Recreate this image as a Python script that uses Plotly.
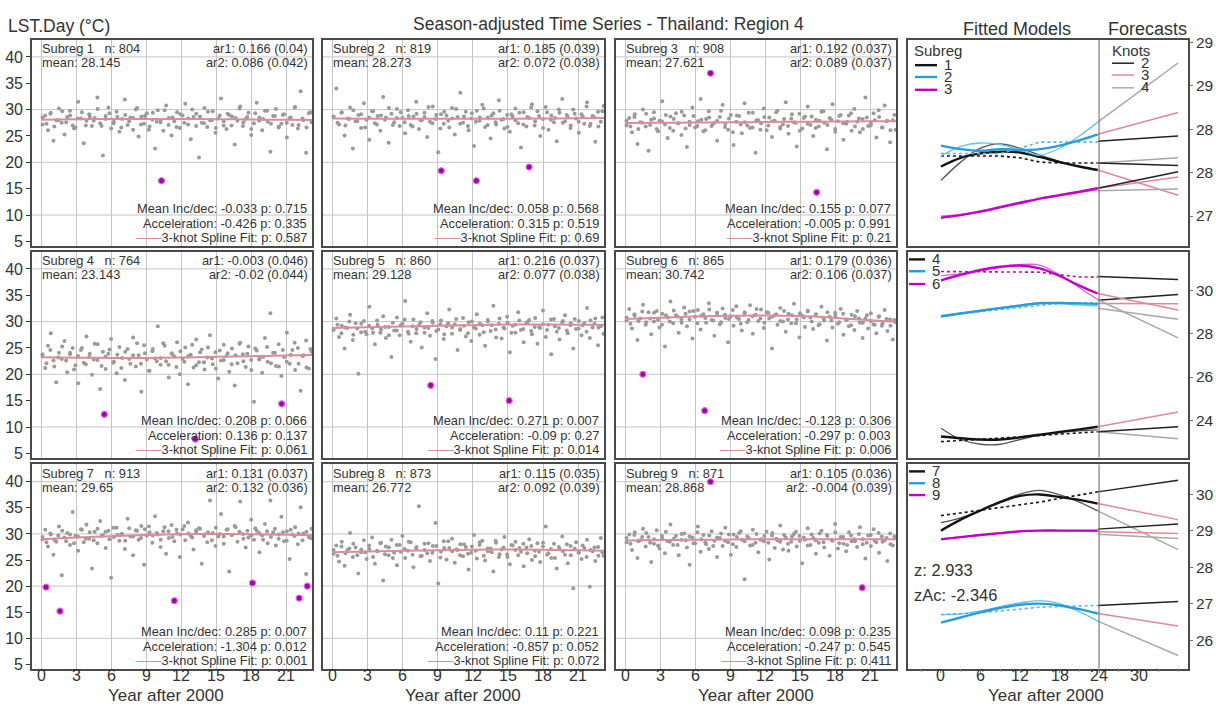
import plotly.graph_objects as go

# ---------------- data ----------------
SUBREGS = [1, 2, 3, 4, 5, 6, 7, 8, 9]
N_OBS = [804, 819, 908, 764, 860, 865, 913, 873, 871]
MEANS = ["28.145", "28.273", "27.621", "23.143", "29.128", "30.742", "29.65", "26.772", "28.868"]
AR1 = ["0.166 (0.04)", "0.185 (0.039)", "0.192 (0.037)", "-0.003 (0.046)", "0.216 (0.037)",
       "0.179 (0.036)", "0.131 (0.037)", "0.115 (0.035)", "0.105 (0.036)"]
AR2 = ["0.086 (0.042)", "0.072 (0.038)", "0.089 (0.037)", "-0.02 (0.044)", "0.077 (0.038)",
       "0.106 (0.037)", "0.132 (0.036)", "0.092 (0.039)", "-0.004 (0.039)"]
MEAN_INC = ["-0.033 p: 0.715", "0.058 p: 0.568", "0.155 p: 0.077", "0.208 p: 0.066", "0.271 p: 0.007",
            "-0.123 p: 0.306", "0.285 p: 0.007", "0.11 p: 0.221", "0.098 p: 0.235"]
ACCEL = ["-0.426 p: 0.335", "0.315 p: 0.519", "-0.005 p: 0.991", "0.136 p: 0.137", "-0.09 p: 0.27",
         "-0.297 p: 0.003", "-1.304 p: 0.012", "-0.857 p: 0.052", "-0.247 p: 0.545"]
SPLINE_P = ["0.587", "0.69", "0.21", "0.061", "0.014", "0.006", "0.001", "0.072", "0.411"]

OBS_START, OBS_END = 0.1, 23.4

obs1 = [27.2, 28.9, 26.1, 29.4, 24.1, 28.0, 30.2, 27.5, 25.3, 28.6, 29.8, 27.0, 26.6, 31.5, 28.3, 23.6, 27.9, 29.1, 26.9, 28.4,
        32.3, 27.4, 21.3, 28.8, 30.4, 26.4, 27.7, 29.6, 25.8, 28.2, 31.9, 27.1, 28.5, 26.2, 30.0, 24.9, 28.7, 27.3, 29.3, 26.8,
        28.1, 22.6, 29.9, 27.6, 26.0, 30.8, 28.4, 25.1, 27.8, 29.5, 26.5, 28.9, 31.1, 27.2, 24.4, 28.6, 29.2, 20.9, 27.5, 30.3,
        26.7, 28.0, 29.7, 25.6, 28.3, 32.1, 27.0, 26.3, 29.0, 28.7, 23.4, 27.9, 30.6, 26.9, 28.2, 29.4, 25.2, 27.4, 31.3, 28.5,
        26.1, 29.8, 27.7, 22.0, 28.8, 30.1, 26.6, 27.3, 29.1, 24.7, 28.4, 27.1, 30.5, 26.4, 33.5, 28.0, 21.8, 29.3, 27.6, 25.9]
obs2 = [28.6, 34.0, 27.2, 29.5, 25.1, 28.3, 30.4, 22.6, 27.8, 29.0, 26.5, 31.2, 28.1, 24.3, 29.7, 27.4, 28.8, 26.0, 32.4, 28.5,
        23.7, 29.2, 27.6, 30.1, 26.9, 28.4, 25.5, 29.9, 27.1, 28.7, 31.5, 26.3, 28.0, 29.4, 24.8, 27.7, 30.6, 28.2, 21.9, 29.1,
        27.3, 28.9, 26.6, 30.3, 25.3, 28.6, 33.2, 27.5, 29.6, 26.1, 28.3, 23.1, 29.8, 27.9, 30.9, 26.7, 28.5, 24.5, 29.3, 27.2,
        31.8, 28.1, 26.4, 29.0, 25.8, 28.7, 30.2, 27.4, 22.8, 29.5, 26.8, 28.4, 31.0, 27.0, 29.7, 25.0, 28.2, 30.5, 26.2, 28.9,
        27.6, 24.0, 29.4, 32.0, 27.8, 28.6, 26.5, 30.0, 28.3, 25.6, 29.1, 27.3, 31.4, 26.9, 28.8, 23.9, 29.6, 27.7, 30.7, 28.0]
obs3 = [27.0, 28.4, 25.7, 29.1, 23.5, 27.6, 30.0, 26.8, 22.2, 28.1, 29.5, 26.3, 27.9, 31.6, 27.2, 24.6, 28.7, 26.0, 29.3, 27.4,
        25.2, 28.9, 22.9, 27.1, 30.4, 26.6, 27.8, 32.0, 25.9, 28.2, 29.7, 26.9, 27.5, 24.1, 28.6, 30.9, 27.3, 26.2, 29.0, 23.3,
        27.7, 28.8, 25.5, 31.2, 27.0, 26.5, 29.4, 21.8, 28.0, 27.4, 30.2, 26.1, 28.5, 24.8, 27.9, 29.8, 26.7, 27.2, 31.4, 25.4,
        28.3, 27.6, 23.0, 29.2, 26.4, 28.7, 30.6, 27.1, 25.0, 28.1, 26.8, 29.6, 27.5, 22.5, 28.4, 31.0, 26.3, 27.8, 29.0, 24.3,
        27.3, 28.9, 26.0, 30.1, 27.7, 25.7, 28.2, 32.3, 26.9, 27.4, 29.3, 24.7, 28.6, 26.6, 30.8, 27.9, 23.8, 28.0, 26.2, 29.5]
obs4 = [23.5, 21.2, 25.4, 27.8, 22.6, 18.5, 24.1, 22.9, 26.3, 20.4, 23.8, 25.0, 21.7, 18.3, 24.6, 22.2, 27.2, 23.3, 19.9, 25.8,
        22.7, 17.2, 24.3, 21.0, 23.9, 26.7, 22.4, 20.2, 25.2, 23.1, 18.9, 24.8, 22.0, 27.0, 21.5, 23.6, 16.7, 25.5, 22.8, 20.7,
        24.4, 23.0, 29.1, 21.8, 25.9, 22.5, 19.4, 24.0, 23.4, 26.1, 20.0, 22.9, 25.1, 18.1, 23.7, 21.3, 26.6, 22.3, 24.7, 20.9,
        23.2, 27.4, 21.9, 24.2, 19.2, 22.6, 25.6, 23.5, 20.5, 24.9, 17.9, 22.1, 26.0, 23.8, 21.4, 25.3, 22.7, 14.8, 24.5, 23.0,
        20.3, 26.9, 22.4, 31.6, 24.1, 21.6, 25.7, 19.7, 23.3, 27.9, 22.0, 24.6, 20.8, 25.0, 16.9, 23.6, 26.4, 21.1, 24.3, 18.6]
obs5 = [28.4, 30.6, 27.1, 29.2, 24.9, 28.8, 31.3, 26.5, 29.7, 20.1, 28.0, 30.1, 27.6, 32.8, 28.7, 25.7, 29.4, 27.9, 31.0, 26.9,
        29.0, 23.3, 28.3, 30.8, 27.4, 29.6, 33.9, 28.1, 26.2, 30.4, 27.8, 29.3, 25.1, 28.9, 31.6, 27.3, 29.8, 22.9, 28.5, 30.2,
        26.7, 29.1, 32.3, 27.7, 29.5, 24.6, 28.6, 30.7, 27.2, 29.9, 26.3, 28.9, 31.4, 27.5, 29.3, 25.4, 30.0, 28.2, 33.0, 27.0,
        29.6, 26.8, 28.7, 30.9, 24.2, 29.2, 27.9, 31.8, 28.4, 26.1, 29.7, 30.3, 27.6, 29.0, 25.8, 28.8, 32.1, 27.1, 29.4, 23.8,
        30.5, 28.1, 26.6, 29.9, 31.2, 27.8, 29.3, 24.9, 28.6, 30.1, 27.4, 29.7, 32.6, 26.9, 28.9, 30.6, 25.5, 29.1, 27.7, 30.2]
obs6 = [30.2, 32.4, 28.7, 31.1, 26.5, 30.6, 33.2, 29.4, 31.8, 27.6, 30.0, 32.0, 28.9, 31.5, 25.3, 30.8, 33.8, 29.7, 31.2, 27.9,
        30.4, 32.7, 29.1, 31.9, 26.8, 30.9, 32.2, 28.5, 31.4, 29.8, 33.5, 30.3, 27.3, 31.7, 29.5, 32.5, 30.7, 26.1, 31.0, 29.2,
        32.9, 30.5, 28.3, 31.6, 29.9, 33.1, 27.7, 31.3, 30.1, 32.3, 28.8, 31.8, 30.6, 24.9, 31.2, 29.4, 32.6, 30.0, 28.1, 31.5,
        29.7, 33.4, 30.4, 27.0, 31.1, 29.0, 32.1, 30.8, 28.6, 31.4, 29.3, 32.8, 30.2, 26.4, 30.9, 28.9, 31.7, 29.6, 32.4, 27.5,
        30.3, 29.1, 31.3, 28.4, 32.0, 29.8, 26.9, 30.6, 28.7, 31.6, 29.5, 27.8, 31.0, 29.2, 32.2, 28.2, 30.4, 26.6, 29.9, 31.2]
obs7 = [29.0, 30.8, 27.6, 29.9, 26.0, 28.5, 31.4, 22.1, 29.3, 30.2, 27.9, 34.2, 29.6, 26.8, 30.9, 28.4, 31.8, 29.1, 23.4, 30.4,
        28.2, 32.5, 29.8, 27.3, 30.6, 21.6, 29.4, 31.2, 28.7, 30.0, 27.1, 32.9, 29.5, 25.9, 30.7, 28.9, 31.5, 24.1, 29.7, 30.3,
        28.3, 33.4, 29.9, 27.5, 30.5, 26.2, 29.2, 31.7, 28.6, 30.1, 25.6, 30.9, 28.8, 32.2, 29.6, 27.0, 30.4, 31.1, 24.3, 29.9,
        28.4, 36.4, 30.2, 27.7, 29.5, 33.8, 28.1, 30.8, 22.8, 29.8, 31.5, 28.5, 36.2, 30.0, 27.4, 29.3, 32.7, 28.9, 30.6, 26.5,
        29.7, 31.9, 28.2, 36.4, 30.3, 27.8, 29.1, 33.3, 28.6, 30.5, 25.2, 29.9, 31.3, 28.0, 35.1, 30.1, 22.3, 29.4, 31.0, 33.0]
obs8 = [26.2, 27.8, 24.7, 28.5, 23.9, 26.9, 30.2, 25.6, 27.4, 22.4, 26.5, 28.8, 25.2, 27.1, 29.3, 24.3, 26.7, 28.2, 21.1, 27.6,
        25.9, 28.9, 26.4, 24.0, 27.9, 29.6, 25.4, 26.8, 28.4, 23.6, 27.2, 35.3, 25.8, 28.1, 26.3, 24.8, 27.7, 32.1, 20.5, 26.6,
        28.6, 25.1, 27.3, 29.1, 24.5, 26.9, 28.0, 25.7, 27.5, 23.2, 26.4, 29.8, 25.3, 27.9, 28.7, 24.9, 26.7, 27.2, 22.8, 28.3,
        25.6, 27.0, 29.4, 26.1, 24.2, 27.8, 28.5, 25.9, 26.6, 23.8, 27.4, 29.0, 25.0, 26.8, 28.2, 24.6, 27.6, 31.4, 26.3, 25.4,
        28.1, 23.4, 27.1, 29.5, 26.0, 24.4, 27.7, 19.6, 28.4, 26.5, 25.2, 27.3, 28.9, 19.9, 26.7, 24.8, 27.5, 29.2, 25.8, 26.2]
obs9 = [28.4, 29.9, 26.9, 30.3, 25.4, 28.8, 31.0, 27.6, 29.4, 24.6, 28.1, 30.7, 27.2, 29.1, 26.3, 28.6, 31.8, 27.9, 29.6, 25.9,
        28.9, 30.1, 27.4, 24.1, 29.3, 28.2, 31.4, 26.6, 29.8, 28.0, 27.1, 30.5, 28.7, 25.6, 29.2, 27.7, 31.2, 28.4, 26.0, 29.9,
        27.5, 30.2, 28.9, 21.3, 29.5, 27.8, 30.8, 28.3, 26.5, 29.0, 28.6, 30.4, 25.1, 29.7, 27.3, 28.8, 31.6, 27.0, 29.3, 26.8,
        28.5, 30.0, 27.6, 29.6, 24.4, 28.9, 31.1, 27.9, 29.2, 26.2, 28.3, 30.6, 27.4, 29.8, 25.8, 28.7, 31.9, 27.2, 29.4, 28.1,
        26.7, 30.3, 28.6, 29.0, 27.5, 31.3, 28.0, 25.3, 29.7, 27.7, 30.9, 28.4, 26.4, 29.5, 28.8, 24.8, 30.1, 27.8, 29.2, 31.5]
OBS = [obs1, obs2, obs3, obs4, obs5, obs6, obs7, obs8, obs9]

# second observation set per subregion (dense core of the cloud)
core1 = [28.5, 27.3, 29.2, 26.8, 28.0, 29.7, 27.6, 28.9, 26.4, 28.3, 29.5, 27.0, 28.7, 27.9, 30.1, 26.9, 28.2, 29.3, 27.4, 28.6,
         26.6, 29.0, 27.8, 28.4, 30.3, 27.2, 28.8, 26.2, 29.4, 27.7, 28.1, 29.9, 27.1, 28.5, 26.7, 29.1, 27.5, 28.3, 30.0, 26.9,
         28.7, 27.4, 29.6, 28.0, 26.5, 28.9, 27.8, 29.2, 27.0, 28.4, 30.2, 27.6, 28.6, 26.3, 29.3, 27.9, 28.2, 29.8, 27.3, 28.8,
         26.8, 29.0, 27.5, 28.5, 30.4, 27.1, 28.3, 26.6, 29.5, 27.9]
core2 = [28.7, 27.5, 29.4, 27.0, 28.2, 29.9, 27.8, 29.1, 26.6, 28.5, 29.7, 27.2, 28.9, 28.1, 30.3, 27.1, 28.4, 29.5, 27.6, 28.8,
         26.8, 29.2, 28.0, 28.6, 30.5, 27.4, 29.0, 26.4, 29.6, 27.9, 28.3, 30.1, 27.3, 28.7, 26.9, 29.3, 27.7, 28.5, 30.2, 27.1,
         28.9, 27.6, 29.8, 28.2, 26.7, 29.1, 28.0, 29.4, 27.2, 28.6, 30.4, 27.8, 28.8, 26.5, 29.5, 28.1, 28.4, 30.0, 27.5, 29.0,
         27.0, 29.2, 27.7, 28.7, 30.6, 27.3, 28.5, 26.8, 29.7, 28.1]
core3 = [27.9, 26.8, 28.6, 26.3, 27.5, 29.2, 27.1, 28.3, 25.9, 27.8, 29.0, 26.5, 28.2, 27.4, 29.6, 26.4, 27.7, 28.8, 26.9, 28.1,
         26.1, 28.5, 27.3, 27.9, 29.8, 26.7, 28.3, 25.7, 28.9, 27.2, 27.6, 29.4, 26.6, 28.0, 26.2, 28.6, 27.0, 27.8, 29.5, 26.4,
         28.2, 26.9, 29.1, 27.5, 26.0, 28.4, 27.3, 28.7, 26.5, 27.9, 29.7, 27.1, 28.1, 25.8, 28.8, 27.4, 27.7, 29.3, 26.8, 28.3,
         26.3, 28.5, 27.0, 28.0, 29.9, 26.6, 27.8, 26.1, 29.0, 27.4]
core4 = [23.8, 22.1, 24.6, 21.5, 23.2, 25.3, 22.6, 24.1, 20.9, 23.5, 25.0, 21.9, 23.9, 22.8, 25.7, 21.6, 23.4, 24.7, 22.2, 23.7,
         21.2, 24.3, 22.9, 23.6, 25.9, 22.0, 24.0, 20.7, 24.8, 22.5, 23.1, 25.4, 21.8, 23.8, 21.4, 24.4, 22.4, 23.5, 25.6, 21.7,
         24.2, 22.3, 25.1, 23.0, 21.1, 24.5, 22.7, 24.0, 21.9, 23.6, 25.8, 22.5, 23.9, 20.8, 24.9, 22.8, 23.3, 25.2, 22.1, 24.1,
         21.5, 24.6, 22.4, 23.7, 26.0, 22.0, 23.5, 21.3, 24.8, 22.9]
core5 = [28.6, 29.4, 27.8, 28.9, 30.0, 27.5, 28.7, 29.6, 28.1, 29.2, 27.9, 30.2, 28.5, 29.0, 27.4, 29.8, 28.3, 29.3, 30.4, 27.7,
         29.1, 28.6, 29.9, 27.9, 28.8, 30.1, 28.2, 29.5, 27.6, 29.7, 28.9, 30.5, 28.4, 29.2, 27.8, 30.0, 28.7, 29.6, 28.0, 30.3,
         29.3, 28.5, 30.6, 28.9, 29.8, 27.9, 29.4, 30.2, 28.6, 29.9, 28.2, 30.7, 29.0, 29.5, 28.4, 30.4, 29.1, 28.8, 30.1, 28.3,
         29.7, 30.5, 28.7, 29.3, 28.1, 30.2, 29.6, 28.9, 30.8, 29.0]
core6 = [30.8, 29.6, 31.4, 30.1, 31.9, 29.9, 30.6, 31.7, 30.3, 29.4, 31.2, 30.0, 32.1, 30.9, 29.8, 31.5, 30.4, 32.0, 29.7, 31.1,
         30.7, 32.3, 30.2, 31.6, 29.9, 31.3, 30.5, 32.2, 30.8, 29.6, 31.8, 30.3, 31.0, 32.4, 30.6, 29.8, 31.7, 30.9, 31.4, 30.1,
         32.0, 30.4, 31.2, 29.7, 31.6, 30.8, 31.9, 30.0, 31.3, 29.5, 30.7, 31.8, 30.2, 31.1, 29.9, 31.5, 30.4, 29.3, 31.0, 30.6,
         29.8, 31.2, 30.1, 29.4, 30.9, 29.7, 30.5, 29.2, 30.3, 29.9]
core7 = [29.4, 28.4, 30.1, 28.9, 29.7, 30.6, 28.6, 29.9, 28.2, 29.5, 30.8, 29.1, 30.3, 28.8, 31.0, 29.6, 30.4, 29.0, 31.2, 29.8,
         30.0, 28.7, 31.1, 29.5, 30.6, 29.2, 30.9, 31.4, 29.7, 30.2, 28.9, 31.3, 30.5, 29.4, 30.8, 29.9, 31.5, 30.1, 29.3, 30.7,
         31.0, 29.6, 30.3, 28.8, 31.2, 30.0, 29.5, 30.9, 29.8, 31.3, 30.4, 29.1, 30.6, 29.7, 31.1, 30.2, 28.9, 30.5, 29.4, 31.0,
         29.9, 30.3, 28.7, 30.8, 29.6, 30.1, 28.8, 30.4, 29.2, 30.6]
core8 = [26.9, 25.8, 27.6, 26.3, 27.2, 28.1, 25.9, 27.0, 26.5, 27.8, 25.6, 26.8, 28.3, 26.1, 27.4, 25.4, 27.9, 26.6, 27.1, 28.5,
         26.0, 27.5, 25.7, 26.9, 28.2, 26.4, 27.7, 25.5, 27.3, 28.6, 26.7, 27.0, 25.9, 28.0, 26.2, 27.6, 26.8, 28.4, 25.8, 27.2,
         26.5, 28.7, 26.1, 27.4, 25.6, 27.9, 26.9, 27.3, 28.1, 26.3, 27.7, 25.7, 26.6, 28.3, 26.0, 27.1, 25.4, 27.5, 26.7, 28.0,
         25.9, 27.2, 26.4, 27.8, 25.6, 26.9, 27.4, 25.8, 26.5, 27.0]
core9 = [29.2, 28.1, 29.8, 28.6, 29.4, 30.2, 28.3, 29.0, 27.8, 29.6, 30.4, 28.5, 29.1, 27.9, 30.0, 28.8, 29.5, 28.2, 30.3, 29.0,
         28.4, 29.7, 27.7, 29.3, 30.1, 28.7, 29.9, 28.0, 29.4, 30.5, 28.6, 29.2, 27.9, 30.0, 28.9, 29.6, 28.3, 30.2, 29.1, 28.5,
         29.8, 28.1, 29.5, 30.4, 28.7, 29.3, 27.8, 29.9, 28.8, 30.1, 28.4, 29.6, 28.9, 30.3, 28.2, 29.4, 27.9, 29.7, 28.6, 30.0,
         29.0, 28.3, 29.8, 28.7, 30.2, 28.5, 29.2, 28.0, 29.5, 28.8]
CORE = [core1, core2, core3, core4, core5, core6, core7, core8, core9]

# flagged outliers (year, value)
OUT_X = [[10.3], [9.3, 12.3, 16.8], [7.3, 16.4], [5.4, 13.2, 20.6], [8.4, 15.1], [1.5, 6.8],
         [0.4, 1.6, 11.4, 18.1, 22.1, 22.8], [], [7.3, 20.3]]
OUT_Y = [[16.5], [18.4, 16.5, 19.1], [36.9, 14.3], [12.4, 7.7, 14.4], [17.9, 15.0], [20.0, 13.1],
         [19.8, 15.2, 17.2, 20.6, 17.7, 20.0], [], [40.0, 19.7]]

# fitted models (years after 2000)
FIT_X = [0, 3, 6, 9, 12, 15, 18, 21, 23.8]
FIT_MAIN = [
    [28.07, 28.17, 28.22, 28.24, 28.23, 28.18, 28.12, 28.07, 28.03],
    [28.31, 28.27, 28.25, 28.27, 28.26, 28.27, 28.31, 28.37, 28.44],
    [27.48, 27.51, 27.55, 27.60, 27.65, 27.70, 27.74, 27.78, 27.82],
    [23.24, 23.16, 23.10, 23.10, 23.20, 23.32, 23.45, 23.57, 23.69],
    [28.81, 28.95, 29.08, 29.20, 29.32, 29.43, 29.44, 29.42, 29.40],
    [30.49, 30.75, 30.97, 31.12, 31.18, 31.05, 30.70, 30.25, 29.88],
    [29.00, 29.30, 29.55, 29.78, 29.95, 29.99, 29.92, 29.84, 29.74],
    [26.48, 26.62, 26.76, 26.88, 26.97, 27.00, 26.95, 26.85, 26.73],
    [28.76, 28.82, 28.88, 28.93, 28.98, 29.00, 29.00, 29.00, 29.00],
]
FIT_ALT = [
    [27.91, 28.12, 28.28, 28.33, 28.28, 28.20, 28.13, 28.07, 28.03],
    [28.19, 28.30, 28.34, 28.32, 28.26, 28.20, 28.28, 28.42, 28.58],
    [27.50, 27.52, 27.56, 27.61, 27.66, 27.70, 27.73, 27.77, 27.80],
    [23.62, 23.10, 22.88, 22.88, 23.10, 23.30, 23.42, 23.50, 23.55],
    [28.85, 28.98, 29.10, 29.22, 29.34, 29.46, 29.42, 29.35, 29.30],
    [30.70, 30.80, 30.92, 31.10, 31.22, 31.20, 30.75, 30.15, 29.60],
    [29.22, 29.35, 29.55, 29.80, 30.00, 30.10, 29.98, 29.78, 29.54],
    [26.70, 26.72, 26.80, 26.92, 27.02, 27.08, 27.00, 26.78, 26.52],
    [28.78, 28.83, 28.89, 28.94, 28.98, 29.00, 29.00, 28.99, 28.98],
]
FIT_LIN = [
    [28.19, 28.19, 28.19, 28.19, 28.17, 28.12, 28.11, 28.11, 28.11],
    [28.22, 28.22, 28.22, 28.22, 28.28, 28.35, 28.35, 28.35, 28.35],
    None,
    [23.00, 23.05, 23.10, 23.15, 23.20, 23.28, 23.35, 23.42, 23.46],
    [28.85, 28.95, 29.05, 29.15, 29.25, 29.35, 29.42, 29.45, 29.45],
    [30.90, 30.90, 30.90, 30.90, 30.87, 30.87, 30.75, 30.65, 30.64],
    [29.41, 29.48, 29.55, 29.62, 29.70, 29.78, 29.88, 29.98, 30.06],
    [26.70, 26.72, 26.75, 26.80, 26.85, 26.90, 26.92, 26.93, 26.95],
    None,
]
# forecasts: start/end values for 2, 3, 4 knots
FC_X = [23.8, 36]
FC2 = [[28.11, 28.08], [28.36, 28.42], [27.82, 28.01], [23.46, 23.69], [29.57, 29.83], [30.67, 30.53],
       [30.06, 30.38], [26.95, 27.06], [29.04, 29.18]]
FC3 = [[28.03, 27.74], [28.44, 28.69], [27.82, 27.95], [23.69, 24.38], [29.42, 29.40], [29.88, 29.11],
       [29.74, 29.30], [26.73, 26.39], [28.97, 28.92]]
FC4 = [[28.11, 28.17], [28.58, 29.26], [27.79, 27.81], [23.46, 23.13], [29.19, 28.69], [29.60, 27.82],
       [29.54, 28.48], [26.52, 25.58], [28.90, 28.78]]

LEFT_YTICKS = [5, 10, 15, 20, 25, 30, 35, 40]
LEFT_YGRID = [10, 20, 30, 40]
LEFT_XTICKS = [0, 3, 6, 9, 12, 15, 18, 21]
RIGHT_XTICKS = [0, 6, 12, 18, 24, 30]
RIGHT_YTICKS = [[27.5, 28, 28.5, 29, 29.5], [24, 26, 28, 30], [26, 27, 28, 29, 30]]
RIGHT_YTEXT = [["27", "28", "28", "29", "29"], ["24", "26", "28", "30"], ["26", "27", "28", "29", "30"]]
RIGHT_YRANGE = [[27.16, 29.53], [22.26, 31.83], [25.22, 30.81]]
Z_TEXT = ["z: 2.933", "zAc: -2.346"]

# ---------------- style / layout ----------------
W, H = 1216, 715
FONT = "Liberation Sans, Arial, sans-serif"
TXT = "#333333"
COLS = [(32, 312), (323, 604), (616, 896)]
RIGHT = (908, 1188)
ROWS = [(34, 243), (249, 458), (465, 672)]
SUB_COL = ["#141414", "#2b9bd8", "#c400c4"]
ALT_COL = ["#555555", "#62c3ee", "#d865d8"]
FC_COL = ["#222222", "#e08898", "#a8a8a8"]
PINK = "#d98c9a"
GRID = "#c4c4c4"
BORDER = "#4a4a4a"
TICK_LABEL_Y = 679


def xd(a, b):
    return [a / W, b / W]


def yd(a, b):
    return [1 - b / H, 1 - a / H]


def px_x(v):
    return v / W


def px_y(v):
    return 1 - v / H


def nm(k):
    return "" if k == 1 else str(k)


fig = go.Figure()
layout = dict(width=W, height=H, margin=dict(l=0, r=0, t=0, b=0), paper_bgcolor="white",
              plot_bgcolor="white", showlegend=False, font=dict(family=FONT, color=TXT))
shapes, annos = [], []


def evenly(n):
    step = (OBS_END - OBS_START) / (n - 1)
    return [OBS_START + j * step for j in range(n)]


for i in range(9):
    r, c = divmod(i, 3)
    k = i + 1
    xa, ya = "x" + nm(k), "y" + nm(k)
    for vals in (CORE[i], OBS[i]):
        fig.add_trace(go.Scatter(x=evenly(len(vals)), y=vals, mode="markers", xaxis=xa, yaxis=ya,
                                 marker=dict(size=4, color="#9a9a9a"), hoverinfo="skip"))
    fig.add_trace(go.Scatter(x=FIT_X, y=FIT_MAIN[i], mode="lines", xaxis=xa, yaxis=ya,
                             line=dict(color=PINK, width=2, shape="spline"), hoverinfo="skip"))
    if OUT_X[i]:
        fig.add_trace(go.Scatter(x=OUT_X[i], y=OUT_Y[i], mode="markers", xaxis=xa, yaxis=ya,
                                 marker=dict(size=6, color="#a000a8", line=dict(color="#e060e0", width=1.2)),
                                 hoverinfo="skip"))
    layout["xaxis" + nm(k)] = dict(domain=xd(*COLS[c]), range=[-0.8, 23.2], anchor=ya, tickvals=LEFT_XTICKS,
                                   showticklabels=False, showgrid=True, gridcolor=GRID, gridwidth=1,
                                   zeroline=False, showline=True, mirror=True, linecolor=BORDER, linewidth=1.6,
                                   ticks="")
    layout["yaxis" + nm(k)] = dict(domain=yd(*ROWS[r]), range=[4.2, 43.3], anchor=xa, tickvals=LEFT_YTICKS,
                                   showticklabels=(c == 0), showgrid=False, zeroline=False, showline=True,
                                   mirror=True, linecolor=BORDER, linewidth=1.6,
                                   ticks="outside" if c == 0 else "", ticklen=4, tickcolor=TXT,
                                   tickfont=dict(size=16, color=TXT))
    if r == 2:
        for t in LEFT_XTICKS:
            annos.append(dict(text=str(t), xref=xa, yref="paper", x=t, y=px_y(TICK_LABEL_Y), xanchor="center",
                              yanchor="middle", showarrow=False, font=dict(size=16, color=TXT)))
    for g in LEFT_YGRID:
        shapes.append(dict(type="line", xref=xa + " domain", yref=ya, x0=0, x1=1, y0=g, y1=g,
                           line=dict(color=GRID, width=1), layer="below"))
    fs = 12.8
    common = dict(xref=xa + " domain", yref=ya + " domain", showarrow=False, yanchor="middle",
                  font=dict(size=fs, color=TXT))
    annos.append(dict(text=f"Subreg {SUBREGS[i]}\u00a0\u00a0 n: {N_OBS[i]}", x=0.029, y=0.955, xanchor="left", **common))
    annos.append(dict(text=f"mean: {MEANS[i]}", x=0.029, y=0.887, xanchor="left", **common))
    annos.append(dict(text=f"ar1: {AR1[i]}", x=0.992, y=0.955, xanchor="right", **common))
    annos.append(dict(text=f"ar2: {AR2[i]}", x=0.992, y=0.887, xanchor="right", **common))
    annos.append(dict(text=f"Mean Inc/dec: {MEAN_INC[i]}", x=0.988, y=0.182, xanchor="right", **common))
    annos.append(dict(text=f"Acceleration: {ACCEL[i]}", x=0.988, y=0.107, xanchor="right", **common))
    annos.append(dict(text=f'<span style="color:{PINK}">\u2014\u2014</span>3-knot Spline Fit: p: {SPLINE_P[i]}',
                      x=0.988, y=0.04, xanchor="right", **common))

# right panels
for r in range(3):
    k = 10 + r
    xa, ya = "x" + nm(k), "y" + nm(k)
    for j in range(3):
        s = 3 * r + j
        fig.add_trace(go.Scatter(x=FIT_X, y=FIT_ALT[s], mode="lines", xaxis=xa, yaxis=ya,
                                 line=dict(color=ALT_COL[j], width=1.3, shape="spline"), hoverinfo="skip"))
        if FIT_LIN[s] is not None:
            fig.add_trace(go.Scatter(x=FIT_X, y=FIT_LIN[s], mode="lines", xaxis=xa, yaxis=ya,
                                     line=dict(color=SUB_COL[j] if j != 1 else "#4fb8e8", width=1.6, dash="dot"),
                                     hoverinfo="skip"))
        fig.add_trace(go.Scatter(x=FIT_X, y=FIT_MAIN[s], mode="lines", xaxis=xa, yaxis=ya,
                                 line=dict(color=SUB_COL[j], width=2.4, shape="spline"), hoverinfo="skip"))
        for fc, col in zip([FC4[s], FC3[s], FC2[s]], [FC_COL[2], FC_COL[1], FC_COL[0]]):
            fig.add_trace(go.Scatter(x=FC_X, y=fc, mode="lines", xaxis=xa, yaxis=ya,
                                     line=dict(color=col, width=1.5), hoverinfo="skip"))
    layout["xaxis" + nm(k)] = dict(domain=xd(*RIGHT), range=[-5, 37.5], anchor=ya, tickvals=RIGHT_XTICKS,
                                   showticklabels=False, showgrid=False, zeroline=False, showline=True,
                                   mirror=True, linecolor=BORDER, linewidth=1.6,
                                   ticks="outside" if r == 2 else "", ticklen=3, tickcolor="#888",
                                   minor=dict(dtick=3, ticks="outside" if r == 2 else "", ticklen=2,
                                              tickcolor="#aaa"))
    layout["yaxis" + nm(k)] = dict(domain=yd(*ROWS[r]), range=RIGHT_YRANGE[r], anchor=xa, side="right",
                                   tickvals=RIGHT_YTICKS[r], ticktext=RIGHT_YTEXT[r], showgrid=False,
                                   zeroline=False, showline=True, mirror=True, linecolor=BORDER, linewidth=1.6,
                                   ticks="outside", ticklen=3, tickcolor="#777",
                                   tickfont=dict(size=15.5, color=TXT))
    if r == 2:
        for t in RIGHT_XTICKS:
            annos.append(dict(text=str(t), xref=xa, yref="paper", x=t, y=px_y(TICK_LABEL_Y), xanchor="center",
                              yanchor="middle", showarrow=False, font=dict(size=16, color=TXT)))
    shapes.append(dict(type="line", xref=xa, yref=ya + " domain", x0=24, x1=24, y0=0, y1=1,
                       line=dict(color="#7a7a7a", width=1.2)))

# legends in the right column (paper pixel positions)
LEG_ROWS = [[60, 72, 85], [257, 269, 282], [472, 484, 496]]
LEG_X = [(915, 937, 942), (909, 925, 930), (909, 925, 930)]
for r in range(3):
    x0, x1, xt = LEG_X[r]
    for j in range(3):
        yy = LEG_ROWS[r][j]
        shapes.append(dict(type="line", xref="paper", yref="paper", x0=px_x(x0), x1=px_x(x1),
                           y0=px_y(yy), y1=px_y(yy), line=dict(color=SUB_COL[j], width=2.4)))
        annos.append(dict(text=str(SUBREGS[3 * r + j]), xref="paper", yref="paper", x=px_x(xt), y=px_y(yy - 1),
                          xanchor="left", yanchor="middle", showarrow=False, font=dict(size=15, color=TXT)))
annos.append(dict(text="Subreg", xref="paper", yref="paper", x=px_x(912), y=px_y(45), xanchor="left",
                  yanchor="middle", showarrow=False, font=dict(size=15, color=TXT)))
annos.append(dict(text="Knots", xref="paper", yref="paper", x=px_x(1110), y=px_y(45), xanchor="left",
                  yanchor="middle", showarrow=False, font=dict(size=15, color=TXT)))
for j, (yy, lab) in enumerate(zip([58, 70, 83], ["2", "3", "4"])):
    shapes.append(dict(type="line", xref="paper", yref="paper", x0=px_x(1112), x1=px_x(1134),
                       y0=px_y(yy), y1=px_y(yy), line=dict(color=FC_COL[j], width=1.5)))
    annos.append(dict(text=lab, xref="paper", yref="paper", x=px_x(1139), y=px_y(yy - 1), xanchor="left",
                      yanchor="middle", showarrow=False, font=dict(size=15, color=TXT)))
for t, yy in zip(Z_TEXT, [572, 597]):
    annos.append(dict(text=t, xref="paper", yref="paper", x=px_x(912), y=px_y(yy), xanchor="left",
                      yanchor="middle", showarrow=False, font=dict(size=16.5, color=TXT)))

# titles
annos.append(dict(text="Season-adjusted Time Series - Thailand: Region 4", xref="paper", yref="paper",
                  x=px_x(608), y=px_y(18), xanchor="center", yanchor="middle", showarrow=False,
                  font=dict(size=17.5, color=TXT)))
annos.append(dict(text="LST.Day (\u00b0C)", xref="paper", yref="paper", x=px_x(6), y=px_y(20), xanchor="left",
                  yanchor="middle", showarrow=False, font=dict(size=17.5, color=TXT)))
annos.append(dict(text="Fitted Models", xref="paper", yref="paper", x=px_x(1017), y=px_y(23), xanchor="center",
                  yanchor="middle", showarrow=False, font=dict(size=18, color=TXT)))
annos.append(dict(text="Forecasts", xref="paper", yref="paper", x=px_x(1147), y=px_y(23), xanchor="center",
                  yanchor="middle", showarrow=False, font=dict(size=18, color=TXT)))
for cx in [166, 463, 756, 1046]:
    annos.append(dict(text="Year after 2000", xref="paper", yref="paper", x=px_x(cx), y=px_y(699),
                      xanchor="center", yanchor="middle", showarrow=False, font=dict(size=17, color=TXT)))

layout["shapes"] = shapes
layout["annotations"] = annos
fig.update_layout(**layout)
fig.write_html("out.html", config={"displayModeBar": False},
               post_script="document.body.style.margin='0px';")
